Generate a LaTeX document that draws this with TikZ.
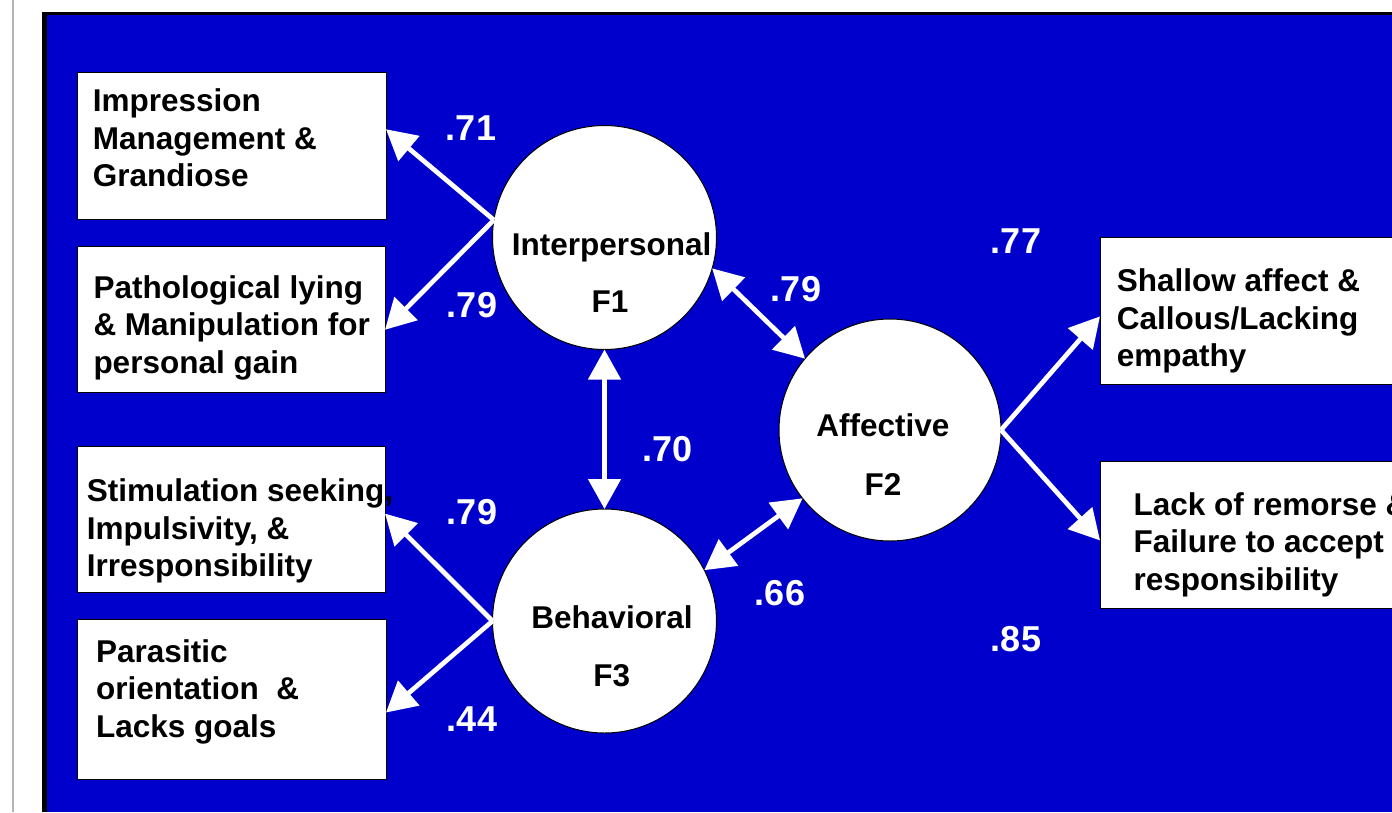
\documentclass[tikz,border=0pt]{standalone}
\usepackage{fontspec}
\setmainfont{Liberation Sans}
\usetikzlibrary{arrows.meta}
\definecolor{bgblue}{HTML}{0000CC}
\definecolor{rulegray}{HTML}{B4B4B4}
\begin{document}
\begin{tikzpicture}[x=1pt,y=-1pt,
  box/.style={draw=black, line width=1pt, fill=white, rectangle, inner sep=0pt, outer sep=0pt},
  fac/.style={draw=black, line width=1pt, fill=white, circle, inner sep=0pt, outer sep=0pt},
  boxtxt/.style={anchor=base west, align=left, inner sep=0pt, font=\fontsize{31.5}{37.5}\selectfont\bfseries},
  factxt/.style={anchor=base, inner sep=0pt, font=\fontsize{31.5}{37.5}\selectfont\bfseries},
  coef/.style={anchor=base, inner sep=0pt, text=white, font=\fontsize{36}{40}\selectfont\bfseries},
  arr/.style={draw=white, line width=4.7pt, -{Triangle[length=30pt,width=32pt]}},
  darr/.style={draw=white, line width=4.7pt, {Triangle[length=30pt,width=32pt]}-{Triangle[length=30pt,width=32pt]}}]
\useasboundingbox (0,0) rectangle (1392,812);
\clip (0,0) rectangle (1392,812);
% background
\fill[white] (0,0) rectangle (1392,812);
\fill[rulegray] (12,0) rectangle (13.5,812);
\fill[black] (41.7,12) rectangle (1392,812);
\fill[bgblue] (46.7,15) rectangle (1392,812);
% indicator boxes
\node[box, minimum width=309pt, minimum height=147pt] (b1) at (231.5,145.5) {};
\node[box, minimum width=308pt, minimum height=146pt] (b2) at (231,319) {};
\node[box, minimum width=308pt, minimum height=146pt] (b3) at (231,519) {};
\node[box, minimum width=309pt, minimum height=160pt] (b4) at (231.5,699) {};
\node[box, minimum width=309pt, minimum height=147pt] (bA) at (1254.5,311) {};
\node[box, minimum width=309pt, minimum height=147pt] (bB) at (1254.5,535) {};
\node[boxtxt] (t1) at (92.7,186.7) {Impression\\Management \&\\Grandiose};
\node[boxtxt] (t2) at (93.3,373.3) {Pathological lying\\\& Manipulation for\\personal gain};
\node[boxtxt] (t3) at (86.7,576.7) {Stimulation seeking,\\Impulsivity, \&\\Irresponsibility};
\node[boxtxt] (t4) at (96,737.3) {Parasitic\\orientation~ \&\\Lacks goals};
\node[boxtxt] (tA) at (1116.7,366.7) {Shallow affect \&\\Callous/Lacking\\empathy};
\node[boxtxt] (tB) at (1133.3,590) {Lack of remorse \&\\Failure to accept\\responsibility};
% factors
\node[fac, minimum size=224pt] (F1) at (604.5,237.5) {};
\node[fac, minimum size=222pt] (F2) at (890,430) {};
\node[fac, minimum size=224pt] (F3) at (604.5,621) {};
\node[factxt] (f1a) at (611.7,255) {Interpersonal};
\node[factxt] (f1b) at (610,312.7) {F1};
\node[factxt] (f2a) at (883,436.7) {Affective};
\node[factxt] (f2b) at (883,495) {F2};
\node[factxt] (f3a) at (612,628.3) {Behavioral};
\node[factxt] (f3b) at (611.7,686.7) {F3};
% loadings
\draw[arr] (F1.171.5) -- (b1.6.35);
\draw[arr] (F1.171.5) -- (b2.-4.27);
\draw[arr] (F3.180) -- (b3.2.34);
\draw[arr] (F3.180) -- (b4.-5.9);
\draw[arr] (F2.east) -- (bA.182.7);
\draw[arr] (F2.east) -- (bB.182.1);
% correlations
\draw[darr] (F1.south) -- (F3.north);
\draw[darr] (F1.-16) -- (F2.140.7);
\draw[darr] (F3.27.3) -- (F2.218.5);
% coefficients
\node[coef] (c1) at (471,140.7) {.71};
\node[coef] (c2) at (472,317.3) {.79};
\node[coef] (c3) at (472,524) {.79};
\node[coef] (c4) at (472,731.7) {.44};
\node[coef] (c5) at (667.5,461.7) {.70};
\node[coef] (c6) at (796,301.7) {.79};
\node[coef] (c7) at (780,605) {.66};
\node[coef] (c8) at (1016,253.3) {.77};
\node[coef] (c9) at (1016,651.7) {.85};
\end{tikzpicture}
\end{document}
